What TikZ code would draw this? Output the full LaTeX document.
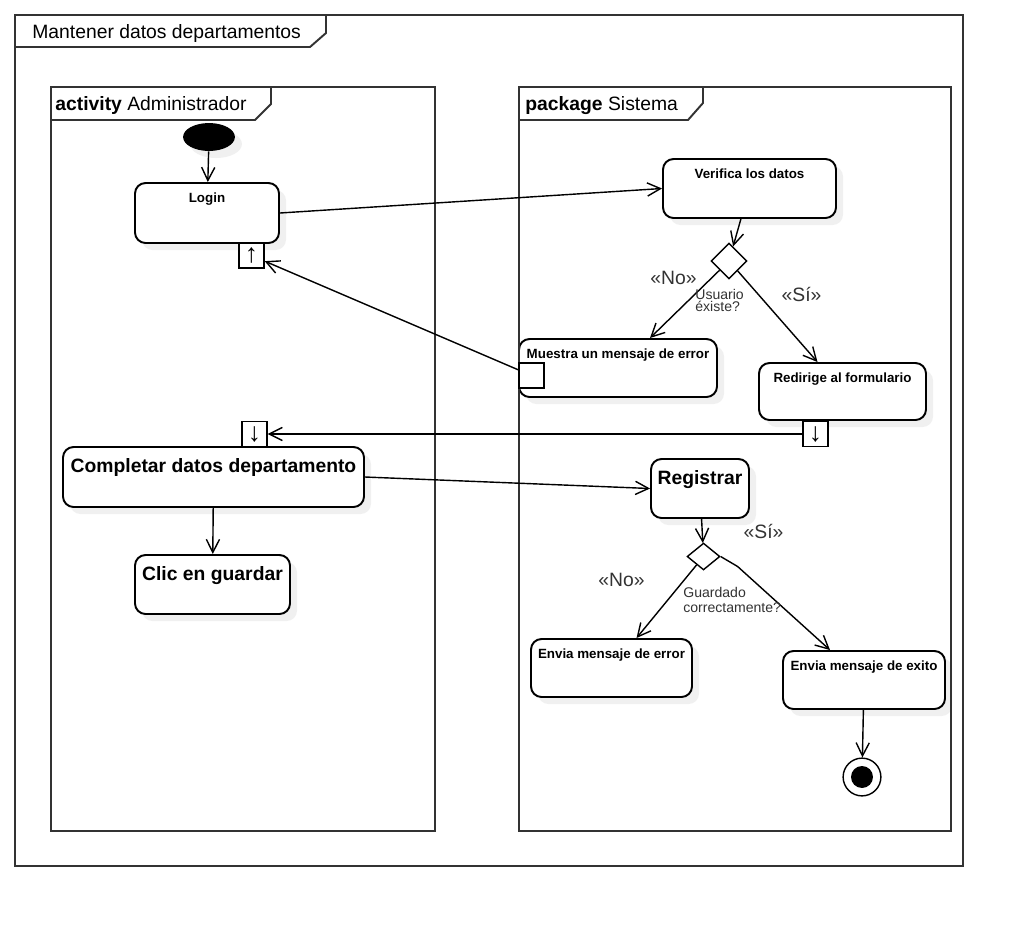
\documentclass[tikz,border=0pt]{standalone}
\usepackage{fontspec}
\setmainfont{Liberation Sans}
\usetikzlibrary{arrows.meta,shapes.geometric,fit,calc,shadows}
\begin{document}
\begin{tikzpicture}[x=0.02cm,y=-0.02cm,>={Straight Barb[length=7.5pt,width=7.5pt]},
  umlframe/.style={draw=black!80,line width=1.1pt},
  tabtxt/.style={anchor=base west,inner sep=0pt,font=\fontsize{11}{13}\selectfont},
  act/.style={draw,line width=1.1pt,rounded corners=6pt,inner sep=0pt,fill=white,drop shadow={shadow xshift=4pt,shadow yshift=-4pt,fill=black!6,opacity=1}},
  smtxt/.style={font=\bfseries\fontsize{7.6}{9}\selectfont,anchor=base,yshift=-11.9pt},
  bigtxt/.style={font=\bfseries\fontsize{11}{13}\selectfont,anchor=base,yshift=-15pt},
  pinbox/.style={draw,line width=0.8pt,fill=white,minimum size=14.2pt,inner sep=0pt,font=\fontsize{15}{15}\selectfont},
  decision/.style={draw,diamond,line width=0.8pt,inner sep=0pt,fill=white},
  flow/.style={->,line width=0.8pt},
  guard/.style={anchor=base,inner sep=0pt,font=\fontsize{11}{13}\selectfont,text=black!80},
  cond/.style={anchor=base west,inner sep=0pt,align=left,text=black!80}]
\useasboundingbox[fill=white] (0,0) rectangle (1023,927);
\node[fill,ellipse,minimum width=29.5pt,minimum height=15.9pt,inner sep=0pt,drop shadow={shadow xshift=4pt,shadow yshift=-4pt,fill=black!6,opacity=1}] (init) at (209,137) {};
\node[act,fit={(135,183) (279,243)},label={[smtxt]north:Login}] (login) {};
\node[act,fit={(663,159) (836,218)},label={[smtxt]north:Verifica los datos}] (verifica) {};
\node[decision,minimum width=20.4pt,minimum height=20.4pt] (dec1) at (729,261) {};
\node[act,fit={(519,339) (717,397)},label={[smtxt]north:Muestra un mensaje de error}] (muestra) {};
\node[act,fit={(759,363) (926,420)},label={[smtxt]north:Redirige al formulario}] (redirige) {};
\node[act,fit={(63,447) (364,507)},label={[bigtxt]north:Completar datos departamento}] (completar) {};
\node[act,fit={(135,555) (290,614)},label={[bigtxt]north:Clic en guardar}] (clic) {};
\node[act,fit={(651,459) (749,518)},label={[bigtxt]north:Registrar}] (registrar) {};
\node[decision,minimum width=18.7pt,minimum height=15.3pt] (dec2) at (703.5,556.5) {};
\node[act,fit={(531,639) (692,697)},label={[smtxt]north:Envia mensaje de error}] (enverr) {};
\node[act,fit={(783,651) (945,709)},label={[smtxt]north:Envia mensaje de exito}] (envexito) {};
\node[draw,circle,line width=0.8pt,minimum size=21.5pt,inner sep=0pt,fill=white] (fin) at (862,777) {};
\node[fill,circle,minimum size=12.5pt,inner sep=0pt] (fincore) at (fin) {};
\draw[umlframe] (15,15) rectangle (963,866);
\draw[umlframe] (15,47) -- (310,47) -- (326,33) -- (326,15);
\node[tabtxt] (title) at (32,38) {Mantener datos departamentos};
\draw[umlframe] (51,87) rectangle (435,831);
\draw[umlframe] (51,120) -- (255,120) -- (271,104) -- (271,87);
\node[tabtxt] (admtab) at (55,110) {\textbf{activity} Administrador};
\draw[umlframe] (519,87) rectangle (951,831);
\draw[umlframe] (519,120) -- (688,120) -- (703,103) -- (703,87);
\node[tabtxt] (systab) at (525,110) {\textbf{package} Sistema};
\node[pinbox] (loginpin) at (251.5,255.5) {↑};
\node[pinbox] (mpin) at (531.5,375.5) {};
\node[pinbox] (rpin) at (815.5,434) {↓};
\node[pinbox] (cpin) at (254.5,434) {↓};
\draw[flow] (init) -- (login);
\draw[flow] (login.east) -- (verifica.west);
\draw[flow] (verifica) -- (dec1);
\draw[flow] (dec1) -- ($(muestra.north)+(32,0)$);
\draw[flow] (dec1) -- ($(redirige.north)+(-25,0)$);
\draw[flow] (mpin) -- (loginpin);
\draw[flow] (rpin) -- (cpin);
\draw[flow] (completar.east) -- (registrar.west);
\draw[flow] (completar) -- (clic);
\draw[flow] (registrar) -- (dec2);
\draw[flow] (dec2) -- ($(enverr.north)+(25,0)$);
\draw[flow] (dec2.east) -- ($(dec2.east)+(17,10)$) -- ($(envexito.north)+(-34,0)$);
\draw[flow] (envexito) -- (fin);
\node[guard] (no1) at (673.5,284) {«No»};
\node[guard] (si1) at (801.5,301) {«Sí»};
\node[cond,font=\fontsize{8}{6.8}\selectfont] (usuario) at (695,311) {Usuario\\éxiste?};
\node[guard] (si2) at (763.5,538) {«Sí»};
\node[guard] (no2) at (621.5,586) {«No»};
\node[cond,font=\fontsize{8}{8.5}\selectfont] (guardado) at (683,612) {Guardado\\correctamente?};
\end{tikzpicture}
\end{document}
